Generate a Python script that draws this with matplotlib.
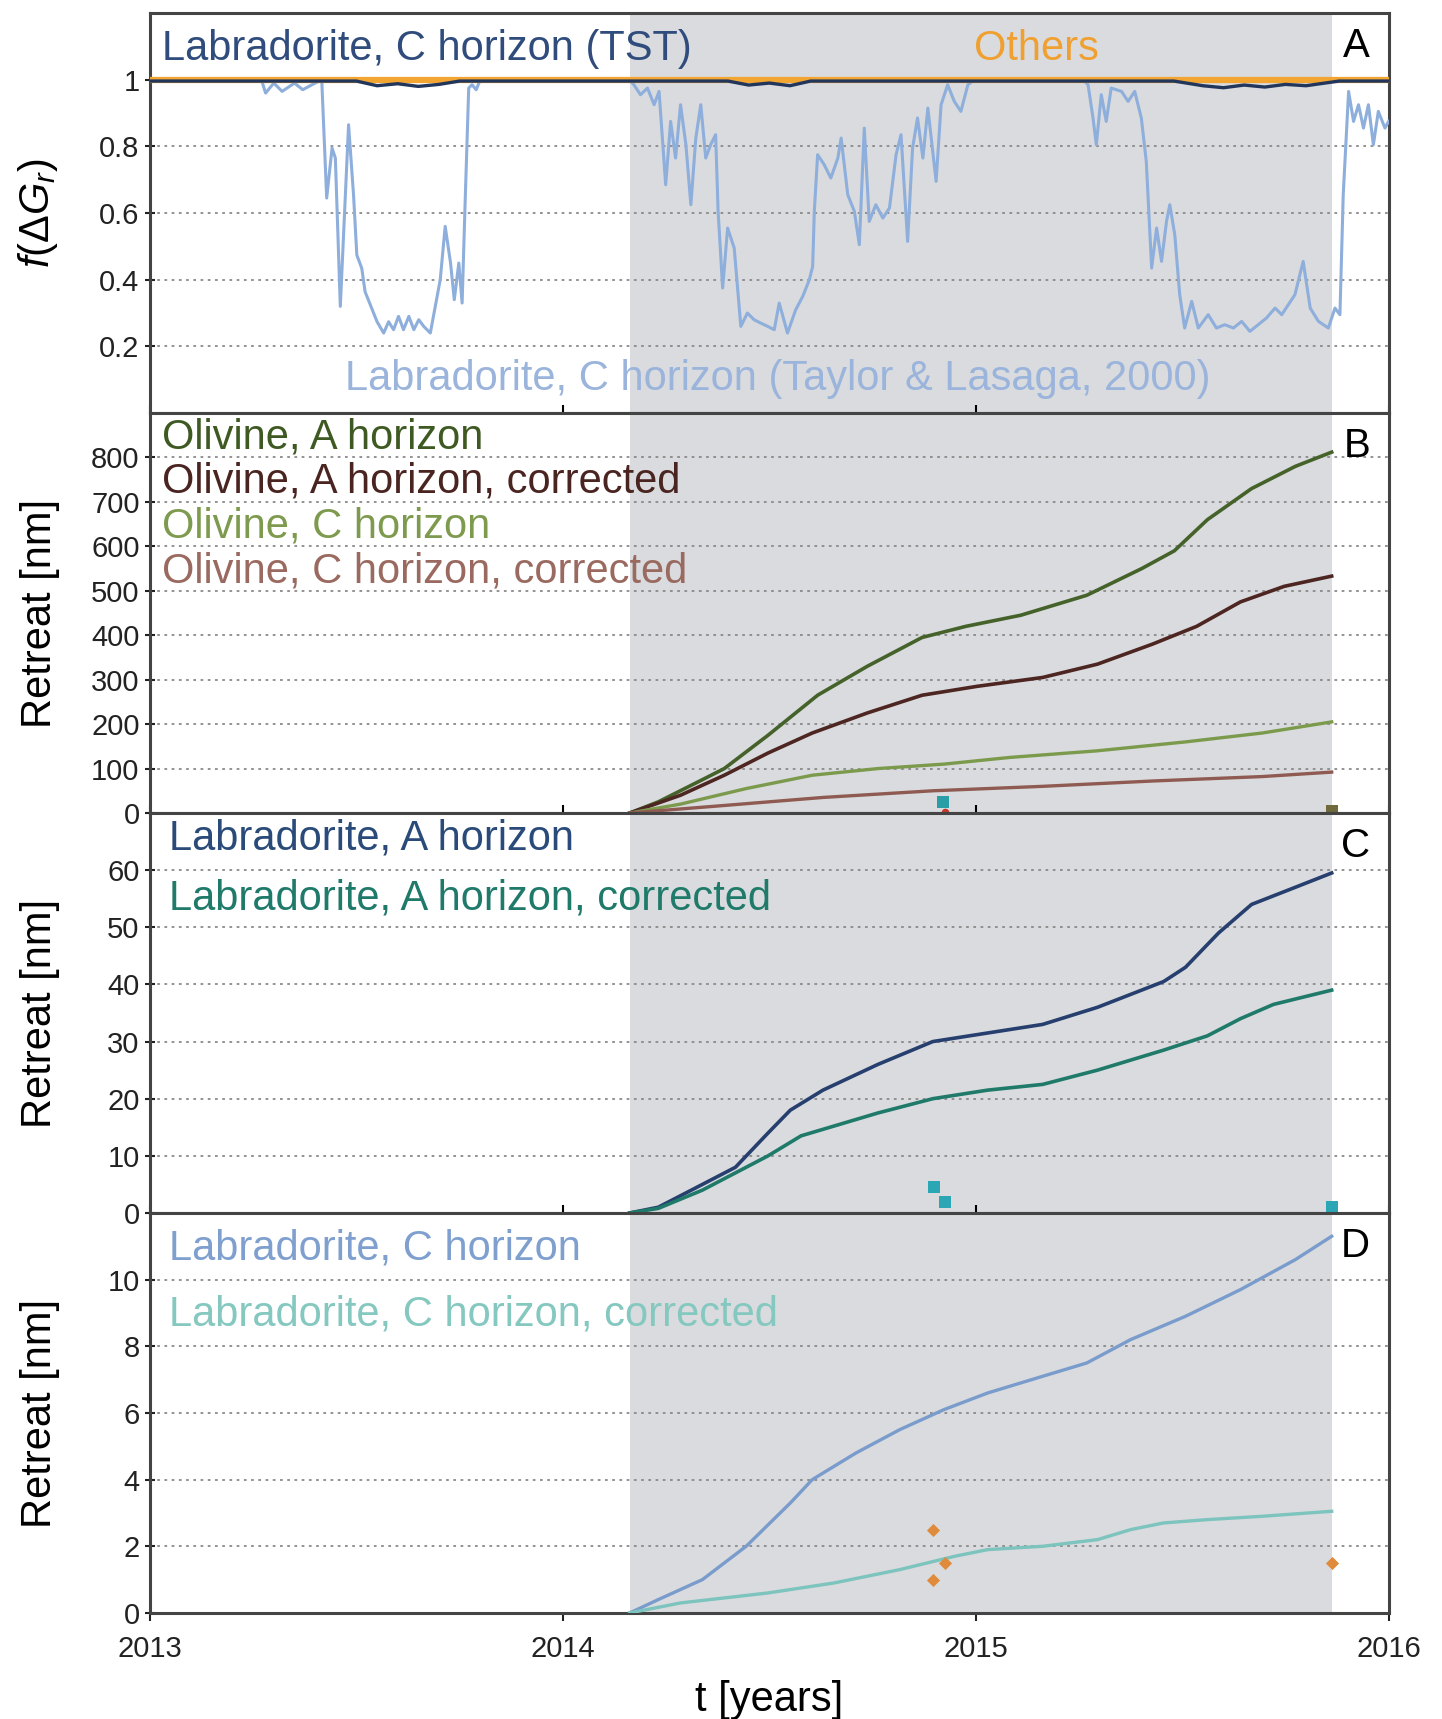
"""
Weathering retreat figure: f(dG_r) and retreat of olivine / labradorite
for A and C horizons, 2013-2016, with the sampling window shaded.
"""
import matplotlib
matplotlib.use("Agg")
import matplotlib.pyplot as plt

plt.rcParams["font.family"] = ["Liberation Sans", "DejaVu Sans"]
plt.rcParams["mathtext.fontset"] = "custom"
plt.rcParams["mathtext.rm"] = "Liberation Sans"
plt.rcParams["mathtext.it"] = "Liberation Sans:italic"

# shaded field window
SHADE_START = 2014.162
SHADE_END = 2015.862

# ---- panel A: f(dG_r) ----
TL_T = [2013.00, 2013.27, 2013.28, 2013.30, 2013.32, 2013.35, 2013.37, 2013.40,
        2013.416, 2013.428, 2013.441, 2013.449, 2013.461, 2013.481, 2013.493,
        2013.501, 2013.513, 2013.521, 2013.534, 2013.550, 2013.566, 2013.578,
        2013.590, 2013.602, 2013.614, 2013.627, 2013.639, 2013.651, 2013.663,
        2013.679, 2013.691, 2013.703, 2013.715, 2013.728, 2013.737, 2013.748,
        2013.756, 2013.764, 2013.772, 2013.780, 2013.79, 2013.80,
        2014.16, 2014.172, 2014.188, 2014.205, 2014.221, 2014.233, 2014.249,
        2014.261, 2014.273, 2014.285, 2014.298, 2014.310, 2014.322, 2014.334,
        2014.346, 2014.358, 2014.370, 2014.376, 2014.387, 2014.399, 2014.415,
        2014.431, 2014.447, 2014.463, 2014.479, 2014.496, 2014.512, 2014.524,
        2014.544, 2014.564, 2014.581, 2014.597, 2014.605, 2014.609, 2014.617,
        2014.633, 2014.649, 2014.666, 2014.674, 2014.690, 2014.706, 2014.718,
        2014.730, 2014.742, 2014.758, 2014.775, 2014.791, 2014.807, 2014.819,
        2014.835, 2014.847, 2014.859, 2014.872, 2014.884, 2014.904, 2014.916,
        2014.932, 2014.948, 2014.964, 2014.981, 2014.997,
        2015.26, 2015.272, 2015.284, 2015.292, 2015.304, 2015.316, 2015.328,
        2015.353, 2015.369, 2015.385, 2015.401, 2015.413, 2015.426, 2015.438,
        2015.450, 2015.462, 2015.470, 2015.482, 2015.494, 2015.506, 2015.523,
        2015.539, 2015.563, 2015.583, 2015.603, 2015.624, 2015.644, 2015.664,
        2015.684, 2015.704, 2015.725, 2015.741, 2015.757, 2015.773, 2015.793,
        2015.810, 2015.830, 2015.854, 2015.870, 2015.882, 2015.890, 2015.903,
        2015.915, 2015.927, 2015.939, 2015.951, 2015.963, 2015.975, 2015.991,
        2016.0]
TL_F = [1.0, 1.0, 0.96, 0.99, 0.965, 0.99, 0.97, 0.99,
        1.0, 0.645, 0.795, 0.765, 0.32, 0.865, 0.655,
        0.474, 0.434, 0.364, 0.324, 0.274, 0.24, 0.274,
        0.25, 0.29, 0.25, 0.29, 0.25, 0.28, 0.26,
        0.24, 0.32, 0.40, 0.56, 0.45, 0.34, 0.45,
        0.33, 0.66, 0.975, 0.985, 0.97, 1.0,
        1.0, 0.985, 0.955, 0.975, 0.925, 0.965, 0.685,
        0.875, 0.765, 0.925, 0.805, 0.625, 0.825, 0.925,
        0.765, 0.805, 0.835, 0.605, 0.375, 0.555, 0.495,
        0.26, 0.30, 0.28, 0.27, 0.26, 0.25, 0.33,
        0.24, 0.31, 0.35, 0.40, 0.44, 0.605, 0.775,
        0.745, 0.705, 0.765, 0.825, 0.655, 0.605, 0.505,
        0.855, 0.575, 0.625, 0.585, 0.615, 0.775, 0.835,
        0.515, 0.795, 0.885, 0.765, 0.915, 0.695, 0.925,
        0.985, 0.935, 0.905, 0.985, 1.0,
        1.0, 0.985, 0.885, 0.805, 0.955, 0.875, 0.975,
        0.965, 0.935, 0.965, 0.885, 0.755, 0.435, 0.555,
        0.455, 0.575, 0.625, 0.535, 0.355, 0.255, 0.335,
        0.255, 0.295, 0.255, 0.265, 0.255, 0.275, 0.245,
        0.265, 0.285, 0.315, 0.295, 0.325, 0.355, 0.455,
        0.315, 0.275, 0.255, 0.315, 0.295, 0.655, 0.965,
        0.875, 0.925, 0.855, 0.925, 0.805, 0.905, 0.855,
        0.875]

TST_T = [2013.0, 2013.50, 2013.55, 2013.60, 2013.65, 2013.70, 2013.75,
         2014.40, 2014.45, 2014.50, 2014.55, 2014.60,
         2015.48, 2015.55, 2015.60, 2015.65, 2015.70, 2015.75, 2015.80, 2015.88, 2016.0]
TST_F = [0.996, 0.996, 0.982, 0.988, 0.980, 0.986, 0.996,
         0.996, 0.984, 0.990, 0.982, 0.996,
         0.996, 0.982, 0.976, 0.984, 0.978, 0.986, 0.982, 0.996, 0.996]

OTHERS_T = [2013.0, 2016.0]
OTHERS_F = [1.0, 1.0]

# ---- panel B: olivine retreat [nm] ----
OL_A_T = [2014.162, 2014.231, 2014.338, 2014.391, 2014.497, 2014.617, 2014.737,
          2014.870, 2014.976, 2015.109, 2015.269, 2015.402, 2015.481, 2015.561,
          2015.668, 2015.774, 2015.862]
OL_A = [0, 25, 75, 100, 175, 265, 330, 395, 420, 445, 490, 550, 590, 660, 730, 780, 812]

OL_AC_T = [2014.162, 2014.285, 2014.391, 2014.497, 2014.604, 2014.737, 2014.870,
           2015.003, 2015.162, 2015.295, 2015.428, 2015.535, 2015.641, 2015.747, 2015.862]
OL_AC = [0, 40, 85, 135, 180, 225, 265, 285, 305, 335, 380, 420, 475, 510, 533]

OL_C_T = [2014.162, 2014.285, 2014.444, 2014.604, 2014.763, 2014.923, 2015.082,
          2015.295, 2015.508, 2015.694, 2015.862]
OL_C = [0, 20, 55, 85, 100, 110, 125, 140, 160, 180, 205]

OL_CC_T = [2014.162, 2014.365, 2014.630, 2014.896, 2015.162, 2015.428, 2015.694, 2015.862]
OL_CC = [0, 15, 35, 50, 60, 72, 82, 92]

# ---- panel C: labradorite A horizon ----
LAB_A_T = [2014.162, 2014.231, 2014.338, 2014.418, 2014.497, 2014.551, 2014.630,
           2014.763, 2014.896, 2015.029, 2015.162, 2015.295, 2015.455, 2015.508,
           2015.588, 2015.668, 2015.774, 2015.862]
LAB_A = [0, 1, 5, 8, 14, 18, 21.5, 26, 30, 31.5, 33, 36, 40.5, 43, 49, 54, 57, 59.5]

LAB_AC_T = [2014.162, 2014.231, 2014.338, 2014.497, 2014.577, 2014.763, 2014.896,
            2015.029, 2015.162, 2015.295, 2015.455, 2015.561, 2015.641, 2015.721, 2015.862]
LAB_AC = [0, 0.8, 4, 10, 13.5, 17.5, 20, 21.5, 22.5, 25, 28.5, 31, 34, 36.5, 39]

# ---- panel D: labradorite C horizon ----
LAB_C_T = [2014.162, 2014.231, 2014.338, 2014.444, 2014.551, 2014.604, 2014.710,
           2014.816, 2014.923, 2015.029, 2015.162, 2015.269, 2015.375, 2015.508,
           2015.641, 2015.774, 2015.862]
LAB_C = [0, 0.4, 1.0, 2.0, 3.3, 4.0, 4.8, 5.5, 6.1, 6.6, 7.1, 7.5, 8.2, 8.9, 9.7, 10.6, 11.3]

LAB_CC_T = [2014.162, 2014.285, 2014.497, 2014.657, 2014.816, 2014.949, 2015.029,
            2015.162, 2015.295, 2015.375, 2015.455, 2015.561, 2015.694, 2015.862]
LAB_CC = [0, 0.3, 0.6, 0.9, 1.3, 1.7, 1.9, 2.0, 2.2, 2.5, 2.7, 2.8, 2.9, 3.05]

# ---- measured points ----
MEAS_B_T = [2014.92]
MEAS_B = [25]
MEAS_B_RED_T = [2014.925]
MEAS_B_RED = [2]
MEAS_B_END_T = [2015.862]
MEAS_B_END = [4]
MEAS_C_T = [2014.899, 2014.925, 2015.862]
MEAS_C = [4.5, 2.0, 1.0]
MEAS_D_T = [2014.897, 2014.897, 2014.926, 2015.862]
MEAS_D = [2.5, 1.0, 1.5, 1.5]

SHADE = "#d9dbde"
GRID = "#8a8a8a"
SPINE = "#444444"
LBL = 30
TXT = 30
TICK = 21
YLABEL_X = -0.073


def style_axis(ax, ylim, yticks, letter, bottom=False):
    ax.set_xlim(2013, 2016)
    ax.set_ylim(*ylim)
    ax.set_yticks(yticks)
    ax.axvspan(SHADE_START, SHADE_END, color=SHADE, zorder=0, lw=0)
    for y in yticks:
        ax.axhline(y, color=GRID, lw=1.3, ls=(0, (1.5, 2.5)), zorder=1)
    for spine in ax.spines.values():
        spine.set_edgecolor(SPINE)
        spine.set_linewidth(2.2)
    ax.tick_params(axis="y", direction="inout", length=7, width=1.5,
                   labelsize=TICK, colors="#222", pad=4)
    ax.set_xticks([2013, 2014, 2015, 2016])
    if bottom:
        ax.tick_params(axis="x", direction="out", length=6, width=1.5,
                       labelsize=TICK, colors="#222", pad=10)
    else:
        ax.tick_params(axis="x", direction="in", length=6, width=1.5,
                       labelbottom=False)
    ax.text(0.985, 0.965, letter, transform=ax.transAxes, ha="right", va="top",
            fontsize=29, color="black")


fig, axes = plt.subplots(4, 1, figsize=(14.42, 17.19), dpi=100)
fig.subplots_adjust(left=0.104, right=0.963, top=0.9924, bottom=0.0617, hspace=0)
axA, axB, axC, axD = axes

# Panel A
style_axis(axA, (0, 1.2), [0.2, 0.4, 0.6, 0.8, 1.0], "A")
axA.set_yticklabels(["0.2", "0.4", "0.6", "0.8", "1"])
axA.plot(TL_T, TL_F, color="#8eaedc", lw=2.2, zorder=3)
axA.plot(OTHERS_T, OTHERS_F, color="#f2a531", lw=4.5, zorder=4)
axA.plot(TST_T, TST_F, color="#22365c", lw=2.4, zorder=5)
axA.set_ylabel(r"$\mathit{f}(\Delta \mathit{G}_\mathit{r})$", fontsize=LBL)
axA.text(0.01, 0.91, "Labradorite, C horizon (TST)", transform=axA.transAxes,
         color="#2f4c7c", fontsize=TXT, va="center")
axA.text(0.716, 0.91, "Others", transform=axA.transAxes,
         color="#f0a030", fontsize=TXT, va="center", ha="center")
axA.text(0.507, 0.085, "Labradorite, C horizon (Taylor & Lasaga, 2000)",
         transform=axA.transAxes, color="#9ab4dc", fontsize=TXT,
         va="center", ha="center")

# Panel B
style_axis(axB, (0, 900), list(range(0, 900, 100)), "B")
axB.plot(OL_A_T, OL_A, color="#45622a", lw=2.6, zorder=3)
axB.plot(OL_AC_T, OL_AC, color="#4d2622", lw=2.6, zorder=3)
axB.plot(OL_C_T, OL_C, color="#7c9a4c", lw=2.4, zorder=3)
axB.plot(OL_CC_T, OL_CC, color="#8f5a52", lw=2.4, zorder=3)
axB.scatter(MEAS_B_T, MEAS_B, marker="s", s=70, color="#2a9ea6", zorder=6, lw=0)
axB.scatter(MEAS_B_RED_T, MEAS_B_RED, marker="o", s=30, color="#c0392b", zorder=6, lw=0)
axB.scatter(MEAS_B_END_T, MEAS_B_END, marker="s", s=70, color="#6f6a3c", zorder=6, lw=0)
axB.set_ylabel("Retreat [nm]", fontsize=LBL)
b_labels = [("Olivine, A horizon", "#3e5a22"),
            ("Olivine, A horizon, corrected", "#4a2420"),
            ("Olivine, C horizon", "#7d9a4e"),
            ("Olivine, C horizon, corrected", "#9a6a60")]
for i, (txt, col) in enumerate(b_labels):
    axB.text(0.01, 0.94 - i * 0.112, txt, transform=axB.transAxes,
             color=col, fontsize=TXT, va="center")

# Panel C
style_axis(axC, (0, 70), list(range(0, 70, 10)), "C")
axC.plot(LAB_A_T, LAB_A, color="#263f6e", lw=2.6, zorder=3)
axC.plot(LAB_AC_T, LAB_AC, color="#1f7a6a", lw=2.6, zorder=3)
axC.scatter(MEAS_C_T, MEAS_C, marker="s", s=70, color="#2aa6b4", zorder=6, lw=0)
axC.set_ylabel("Retreat [nm]", fontsize=LBL)
axC.text(0.015, 0.935, "Labradorite, A horizon", transform=axC.transAxes,
         color="#2a4a7a", fontsize=TXT, va="center")
axC.text(0.015, 0.787, "Labradorite, A horizon, corrected", transform=axC.transAxes,
         color="#1f7a6a", fontsize=TXT, va="center")

# Panel D
style_axis(axD, (0, 12), list(range(0, 12, 2)), "D", bottom=True)
axD.plot(LAB_C_T, LAB_C, color="#7a9ccc", lw=2.4, zorder=3)
axD.plot(LAB_CC_T, LAB_CC, color="#7cc4bd", lw=2.4, zorder=3)
axD.scatter(MEAS_D_T, MEAS_D, marker="D", s=45, color="#e08a3c", zorder=6, lw=0)
axD.set_ylabel("Retreat [nm]", fontsize=LBL)
axD.text(0.015, 0.91, "Labradorite, C horizon", transform=axD.transAxes,
         color="#7fa0cf", fontsize=TXT, va="center")
axD.text(0.015, 0.745, "Labradorite, C horizon, corrected", transform=axD.transAxes,
         color="#85c8c0", fontsize=TXT, va="center")
axD.set_xticklabels(["2013", "2014", "2015", "2016"])
axD.set_xlabel("t [years]", fontsize=LBL, labelpad=12)

for ax in axes:
    ax.yaxis.set_label_coords(YLABEL_X, 0.5)

plt.savefig("out.png", dpi=100)
plt.close()
